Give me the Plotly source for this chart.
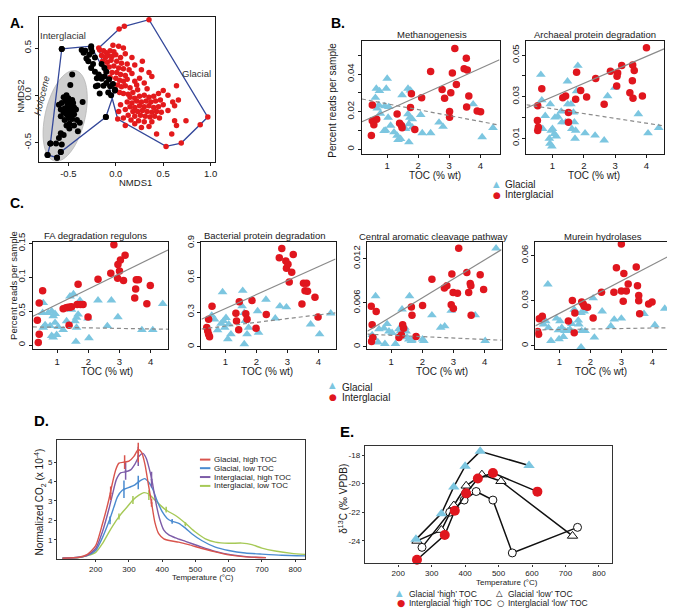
import numpy as np
import plotly.graph_objects as go

W, H = 675, 612
OFF = 8                      # default page margin of the html body
FW, FH = W - OFF, H - OFF
SANS = "Liberation Sans, Arial, Helvetica, sans-serif"
SYM = "DejaVu Sans"
BLUE = "#7cc6e0"
RED = "#e0161e"

# ---------------- Panel A: NMDS ----------------
nmds_inter_x = [-0.36, -0.32, -0.26, -0.25, -0.34, -0.31, -0.29, -0.22, -0.26, -0.22,
                -0.18, -0.17, -0.15, -0.20, -0.12, -0.10, -0.13, -0.06, -0.03, -0.01,
                -0.19, -0.21, -0.17, -0.08, -0.05, -0.12, -0.15, -0.10, -0.28, -0.57,
                -0.105, -0.07, -0.24, -0.35, -0.38]
nmds_inter_y = [0.48, 0.47, 0.50, 0.46, 0.45, 0.39, 0.36, 0.40, 0.29, 0.25,
                0.22, 0.20, 0.175, 0.18, 0.20, 0.13, 0.10, 0.095, 0.12, 0.06,
                0.105, 0.095, 0.02, 0.03, 0.0, 0.29, 0.33, 0.25, 0.43, 0.49,
                -0.23, 0.17, 0.33, -0.07, -0.29]
nmds_holo_x = [-0.46, -0.48, -0.52, -0.55, -0.50, -0.46, -0.53, -0.49, -0.45, -0.57,
               -0.60, -0.51, -0.47, -0.44, -0.54, -0.58, -0.50, -0.46, -0.42, -0.55,
               -0.52, -0.48, -0.44, -0.58, -0.50, -0.46, -0.54, -0.41, -0.49, -0.52,
               -0.58, -0.55, -0.60, -0.57, -0.63, -0.40, -0.69, -0.72, -0.62, -0.58,
               -0.49, -0.44]
nmds_holo_y = [0.22, 0.11, 0.0, -0.02, -0.03, -0.05, -0.06, -0.08, -0.08, -0.08,
               -0.10, -0.11, -0.12, -0.13, -0.14, -0.15, -0.16, -0.17, -0.15, -0.18,
               -0.20, -0.21, -0.20, -0.22, -0.24, -0.25, -0.26, -0.26, -0.30, -0.32,
               -0.40, -0.42, -0.45, -0.52, -0.51, -0.38, -0.51, -0.63, -0.66, -0.60,
               -0.35, -0.32]
nmds_glac_x = [-0.17, -0.13, -0.10, -0.06, -0.02, -0.15, -0.11, -0.08, -0.04, 0.00,
               0.05, -0.14, -0.09, -0.05, 0.01, 0.06, 0.12, -0.12, -0.07, -0.02,
               0.03, 0.08, 0.14, -0.10, -0.04, 0.01, 0.05, 0.10, 0.17, -0.06,
               0.00, 0.04, 0.08, 0.12, 0.20, -0.03, 0.02, 0.06, 0.10, 0.15,
               0.00, 0.04, 0.08, 0.13, 0.18, 0.23, 0.28, 0.27, 0.25, 0.22,
               0.35, 0.38, 0.30, 0.33, 0.20, 0.17, 0.10, 0.03, -0.03, 0.08,
               0.15, 0.20, 0.25, 0.30, 0.35, 0.40, 0.45, 0.50, 0.55,
               0.12, 0.17, 0.22, 0.27, 0.32, 0.37, 0.42, 0.47,
               0.15, 0.20, 0.25, 0.30, 0.35, 0.40, 0.45, 0.50,
               0.10, 0.18, 0.23, 0.28, 0.33, 0.38, 0.43, 0.48,
               0.13, 0.20, 0.26, 0.31, 0.36, 0.41, 0.46,
               0.08, 0.16, 0.24, 0.30, 0.38, 0.05, 0.03,
               0.60, 0.62, 0.66, 0.64, 0.55, 0.62, 0.74, 0.64, 0.43, 0.59,
               0.35, 0.27, 0.20, 0.10]
nmds_glac_y = [0.48, 0.47, 0.45, 0.47, 0.46, 0.42, 0.40, 0.42, 0.41, 0.43,
               0.40, 0.36, 0.35, 0.37, 0.36, 0.34, 0.33, 0.30, 0.30, 0.31,
               0.29, 0.28, 0.27, 0.25, 0.24, 0.24, 0.22, 0.21, 0.23, 0.19,
               0.18, 0.16, 0.15, 0.17, 0.15, 0.12, 0.11, 0.09, 0.10, 0.08,
               0.05, 0.03, 0.02, 0.01, 0.03, 0.06, 0.36, 0.27, 0.18, 0.11,
               0.24, 0.20, 0.13, 0.07, 0.32, 0.40, 0.44, 0.52, 0.53, 0.50,
               -0.02, -0.03, -0.01, 0.00, -0.02, -0.01, 0.02, 0.05, 0.00,
               -0.07, -0.08, -0.06, -0.07, -0.06, -0.07, -0.06, -0.05,
               -0.12, -0.13, -0.11, -0.12, -0.11, -0.13, -0.12, -0.10,
               -0.15, -0.17, -0.17, -0.16, -0.17, -0.18, -0.17, -0.18,
               -0.21, -0.22, -0.21, -0.22, -0.23, -0.22, -0.24,
               -0.24, -0.26, -0.27, -0.28, -0.28, -0.10, -0.17,
               -0.07, -0.11, -0.05, 0.10, -0.16, -0.27, -0.27, -0.32, -0.41, -0.41,
               -0.33, -0.34, -0.30, -0.32]
hull_inter_x = [-0.57, -0.26, -0.01, -0.105, -0.58, -0.62, -0.72, -0.69, -0.57]
hull_inter_y = [0.49, 0.52, 0.05, -0.23, -0.60, -0.66, -0.63, -0.51, 0.49]
hull_glac_x = [-0.18, 0.035, 0.09, 0.35, 0.97, 0.89, 0.69, 0.53, 0.02, -0.18]
hull_glac_y = [0.50, 0.70, 0.73, 0.80, -0.23, -0.31, -0.505, -0.54, -0.25, 0.50]

# ---------------- Panel B ----------------
meth_gl_x = [0.65, 0.75, 1.0, 0.97, 1.48, 1.67, 1.75, 0.62, 0.73, 0.92, 1.05, 0.68, 0.78, 1.03, 0.95, 0.90, 1.11, 1.22,
             1.32, 1.35, 1.43, 1.59, 1.70, 1.73, 1.67, 1.81, 2.08, 1.70, 1.81, 2.13, 2.40, 2.67, 2.80, 3.77, 4.06, 4.41]
meth_gl_y = [0.0323, 0.031, 0.0376, 0.0323, 0.0288, 0.0323, 0.0313, 0.0274, 0.0236, 0.023, 0.0225, 0.0217, 0.019,
             0.0169, 0.010, 0.0098, 0.0126, 0.0091, 0.0073, 0.005, 0.0056, 0.0108, 0.0134, 0.0169, 0.0187, 0.016,
             0.0183, 0.0038, 0.0117, 0.0086, 0.0086, 0.0143, 0.012, 0.024, 0.0065, 0.0114]
meth_ig_x = [0.52, 0.57, 0.49, 0.52, 0.66, 1.32, 1.40, 1.46, 1.48, 1.75, 1.78, 1.89, 2.11, 2.40, 2.77, 2.85, 3.10, 3.05,
             3.23, 3.01, 3.01, 3.18, 3.55, 3.48, 3.58, 3.63, 3.56, 3.90, 4.01]
meth_ig_y = [0.0152, 0.0131, 0.0073, 0.0236, 0.016, 0.0187, 0.0138, 0.0126, 0.0114, 0.0222, 0.0295, 0.0105, 0.0274,
             0.0414, 0.0318, 0.0271, 0.0405, 0.030, 0.0344, 0.0201, 0.017, 0.0536, 0.0484, 0.0428, 0.0421, 0.0283,
             0.0225, 0.0204, 0.0199]
meth_fit_ig = [0.0133, 0.00743]      # intercept, slope
meth_fit_gl = [0.0273, -0.003126]

arch_gl_x = [0.63, 0.66, 0.96, 0.90, 0.92, 0.98, 1.06, 1.12, 1.00, 1.30, 1.48, 1.49, 1.62, 1.70, 1.81, 1.77, 2.04, 2.36,
             2.65, 2.76, 2.99, 3.74, 4.05, 4.39, 0.77, 0.69, 0.93, 1.17, 1.28, 1.59, 1.67, 1.74, 1.72, 1.08, 1.42]
arch_gl_y = [0.0406, 0.0283, 0.0137, 0.0098, 0.0074, 0.0061, 0.0121, 0.0109, 0.0145, 0.0177, 0.0374, 0.0264, 0.0145,
             0.0177, 0.0449, 0.0327, 0.0124, 0.0113, 0.0090, 0.0303, 0.0343, 0.0216, 0.0124, 0.0150, 0.0208, 0.0145,
             0.0264, 0.0204, 0.0229, 0.0264, 0.0224, 0.0137, 0.0098, 0.0200, 0.0177]
arch_ig_x = [0.52, 0.55, 0.53, 0.53, 0.66, 1.33, 1.42, 1.51, 1.51, 1.74, 1.77, 1.90, 2.09, 2.38, 2.65, 2.85, 3.05, 3.06,
             3.08, 3.21, 3.47, 3.55, 3.56, 3.61, 3.57, 3.87, 4.00]
arch_ig_y = [0.0185, 0.0153, 0.0137, 0.0256, 0.0338, 0.0295, 0.0303, 0.0177, 0.0224, 0.0287, 0.0417, 0.0330, 0.0298,
             0.0387, 0.0264, 0.0422, 0.0351, 0.0398, 0.0414, 0.0450, 0.0319, 0.0377, 0.0453, 0.0426, 0.0292, 0.0303,
             0.0536]
arch_fit_ig = [0.0234, 0.00649]
arch_fit_gl = [0.0265, -0.00232]

# ---------------- Panel C ----------------
fa_ig_x = [0.36, 0.42, 0.42, 0.39, 0.53, 1.19, 1.28, 1.35, 1.41, 1.46, 1.38, 1.64, 1.67, 1.83, 1.75, 1.99, 2.31, 2.72,
           2.82, 2.94, 2.95, 3.03, 3.00, 3.13, 3.18, 3.49, 3.52, 3.54, 3.61, 3.88, 3.99]
fa_ig_y = [0.0364, 0.062, 0.016, 0.0039, 0.080, 0.0534, 0.0549, 0.0558, 0.0558, 0.0563, 0.029, 0.0597, 0.0898, 0.0597,
           0.0597, 0.0413, 0.0971, 0.1058, 0.148, 0.0985, 0.1189, 0.1252, 0.1092, 0.0951, 0.1325, 0.0694, 0.0825,
           0.0961, 0.0961, 0.0607, 0.0879]
fa_gl_x = [0.55, 0.53, 0.61, 0.55, 0.71, 0.77, 0.82, 0.87, 0.93, 0.82, 0.87, 0.98, 0.93, 1.03, 1.19, 1.41, 1.52, 1.46,
           1.57, 1.62, 1.73, 1.67, 1.62, 1.60, 1.99, 2.02, 2.31, 2.61, 2.74, 2.95, 3.72, 4.07, 4.39, 1.30]
fa_gl_y = [0.062, 0.0476, 0.0296, 0.0257, 0.0476, 0.0282, 0.050, 0.0427, 0.0461, 0.0136, 0.0112, 0.015, 0.033, 0.0267,
           0.0223, 0.0718, 0.0752, 0.0524, 0.0354, 0.0403, 0.0655, 0.0451, 0.0257, 0.0049, 0.0393, 0.0102, 0.066,
           0.0282, 0.066, 0.0413, 0.0223, 0.0223, 0.0607, 0.0354]
fa_fit_ig = [0.0375, 0.02252]
fa_fit_gl = [0.0269, -0.00079]

bac_ig_x = [0.40, 0.43, 0.46, 0.49, 0.46, 0.57, 1.34, 1.36, 1.45, 1.43, 1.66, 1.70, 1.86, 1.99, 2.32, 2.74, 2.82, 2.95,
            2.97, 3.02, 3.06, 3.14, 3.19, 3.47, 3.52, 3.57, 3.62, 3.65, 3.89, 3.99]
bac_ig_y = [0.166, 0.137, 0.109, 0.086, 0.237, 0.351, 0.289, 0.223, 0.389, 0.146, 0.286, 0.237, 0.400, 0.160, 0.280,
            0.771, 0.851, 0.743, 0.680, 0.714, 0.560, 0.646, 0.800, 0.371, 0.551, 0.486, 0.551, 0.480, 0.429, 0.257]
bac_gl_x = [0.56, 0.65, 0.75, 0.86, 0.91, 0.94, 0.98, 1.02, 1.08, 1.11, 1.18, 1.56, 1.54, 1.61, 1.64, 1.61, 1.70, 1.75,
            2.04, 2.07, 2.31, 2.61, 2.76, 2.97, 3.75, 4.04, 4.40]
bac_gl_y = [0.271, 0.237, 0.143, 0.200, 0.474, 0.223, 0.166, 0.251, 0.066, 0.194, 0.109, 0.486, 0.351, 0.294, 0.223,
            0.023, 0.109, 0.166, 0.309, 0.123, 0.409, 0.246, 0.351, 0.343, 0.194, 0.109, 0.289]
bac_fit_ig = [0.21, 0.1207]
bac_fit_gl = [0.146, 0.0325]

cen_ig_x = [0.36, 0.52, 0.39, 0.41, 0.37, 1.25, 1.33, 1.37, 1.40, 1.65, 1.67, 1.80, 2.01, 2.31, 2.71, 2.79, 2.95, 2.99,
            2.93, 3.00, 3.13, 3.17, 3.43, 3.49, 3.54, 3.56, 3.57, 3.86, 3.97]
cen_ig_y = [0.0055, 0.0048, 0.0030, 0.00125, 0.0007, 0.00125, 0.0016, 0.0030, 0.0025, 0.0054, 0.0043, 0.0014, 0.0056,
            0.0092, 0.0080, 0.0083, 0.0099, 0.0074, 0.0057, 0.0052, 0.0073, 0.0134, 0.0101, 0.0074, 0.0086, 0.0083,
            0.0043, 0.0098, 0.0078]
cen_gl_x = [0.50, 0.39, 0.45, 0.58, 0.61, 0.77, 0.80, 0.87, 0.93, 1.03, 1.14, 1.25, 1.30, 1.35, 1.48, 1.51, 1.57, 1.59,
            1.65, 1.67, 1.44, 2.01, 2.05, 2.31, 2.59, 2.72, 2.93, 3.70, 4.02, 4.37]
cen_gl_y = [0.0069, 0.0016, 0.0012, 0.0006, 0.0024, 0.0025, 0.0004, 0.0031, 0.0021, 0.0019, 0.0004, 0.0024, 0.0021,
            0.0051, 0.0021, 0.0013, 0.0010, 0.0069, 0.0008, 0.0009, 0.0026, 0.0010, 0.0008, 0.0043, 0.0026, 0.0028,
            0.0049, 0.0043, 0.0008, 0.0134]
cen_fit_ig = [0.00150, 0.00258]
cen_fit_gl = [0.00175, -0.00019]

mur_ig_x = [0.30, 0.33, 0.35, 0.45, 1.29, 1.42, 1.48, 1.50, 1.72, 1.77, 1.80, 1.91, 2.09, 2.36, 2.76, 2.84, 3.00, 3.00,
            3.06, 3.08, 3.16, 3.22, 3.48, 3.52, 3.56, 3.56, 3.59, 3.88, 3.99]
mur_ig_y = [0.0094, 0.0076, 0.0180, 0.0196, 0.0164, 0.0301, 0.0087, 0.0218, 0.0290, 0.0277, 0.0262, 0.0255, 0.0185,
            0.0356, 0.0356, 0.0519, 0.0676, 0.0364, 0.0295, 0.0480, 0.0364, 0.0410, 0.0524, 0.0399, 0.0334, 0.0299,
            0.0212, 0.0277, 0.0290]
mur_gl_x = [0.49, 0.63, 0.56, 0.65, 0.73, 0.91, 0.97, 0.99, 1.02, 1.08, 1.13, 1.18, 1.27, 1.34, 1.40, 1.48, 1.56, 1.61,
            1.63, 1.70, 1.72, 1.80, 1.83, 1.70, 2.09, 2.13, 2.38, 2.66, 2.77, 3.00, 3.73, 4.08, 4.40]
mur_gl_y = [0.0142, 0.0408, 0.0164, 0.0120, 0.0033, 0.0181, 0.0103, 0.0044, 0.0164, 0.0120, 0.0059, 0.0098, 0.0098,
            0.0109, 0.0146, 0.0240, 0.0218, 0.0168, 0.0142, 0.0218, 0.0098, 0.0229, 0.0098, -0.0010, 0.0316, 0.0055,
            0.0229, 0.0131, 0.0175, 0.0181, 0.0212, 0.0137, 0.0247]
mur_fit_ig = [0.01073, 0.01077]
mur_fit_gl = [0.01042, 0.00034]

# ---------------- Panel D: thermograms ----------------
d_gh_t = [100, 150, 175, 200, 220, 240, 250, 260, 270, 285, 300, 315, 328, 338, 348, 358, 368, 378, 390, 405, 425, 450,
          480, 520, 560, 600, 650, 712]
d_gh_v = [0.05, 0.1, 0.25, 0.7, 1.8, 3.1, 3.9, 4.6, 4.95, 5.0, 5.05, 5.3, 5.65, 5.5, 4.9, 3.9, 2.9, 1.9, 1.3, 1.05,
          0.95, 0.88, 0.75, 0.55, 0.38, 0.22, 0.12, 0.08]
d_gl_t = [100, 150, 175, 200, 220, 240, 255, 265, 280, 300, 315, 330, 347, 360, 372, 385, 400, 415, 430, 450, 470, 490,
          520, 560, 600, 650, 700, 760, 830]
d_gl_v = [0.05, 0.1, 0.2, 0.45, 1.1, 1.95, 2.7, 3.2, 3.55, 3.7, 3.8, 4.0, 4.15, 3.95, 3.6, 3.0, 2.45, 2.1, 1.95, 1.85,
          1.6, 1.3, 0.95, 0.62, 0.45, 0.32, 0.26, 0.2, 0.17]
d_ih_t = [100, 150, 175, 200, 220, 240, 250, 262, 275, 290, 305, 318, 330, 342, 352, 362, 370, 380, 392, 405, 420, 440,
          470, 510, 560, 610, 660, 712]
d_ih_v = [0.05, 0.1, 0.2, 0.55, 1.4, 2.6, 3.3, 4.1, 4.45, 4.5, 4.6, 4.9, 5.3, 5.45, 5.2, 4.6, 4.0, 3.0, 2.1, 1.5, 1.25,
          1.1, 0.92, 0.68, 0.4, 0.22, 0.12, 0.08]
d_il_t = [100, 150, 175, 200, 220, 240, 260, 275, 295, 312, 330, 345, 360, 375, 390, 410, 440, 470, 500, 530, 560, 600,
          640, 670, 700, 740, 790, 830]
d_il_v = [0.05, 0.08, 0.18, 0.35, 0.8, 1.4, 1.95, 2.3, 2.7, 3.05, 3.3, 3.43, 3.35, 3.1, 2.85, 2.55, 2.25, 1.85, 1.4,
          1.05, 0.88, 0.82, 0.83, 0.75, 0.57, 0.42, 0.3, 0.25]
d_err = {
    "gh": ([245, 287, 328, 368], [3.4, 5.0, 5.5, 2.9], [0.35, 0.35, 0.5, 0.2]),
    "gl": ([243, 285, 328, 430], [2.0, 3.6, 3.95, 1.95], [0.2, 0.45, 0.35, 0.12]),
    "ih": ([290, 328, 368], [4.55, 5.3, 4.1], [0.45, 0.5, 0.4]),
    "il": ([270, 312, 360, 412, 470], [2.2, 3.05, 3.3, 2.55, 1.8], [0.15, 0.2, 0.25, 0.15, 0.1]),
}

# ---------------- Panel E: d13C ----------------
e_gh_t = [253, 329, 366, 400, 445, 591]
e_gh_v = [-23.9, -22.1, -20.23, -18.78, -17.74, -18.73]
e_gl_t = [256, 329, 366, 403, 450, 507, 721]
e_gl_v = [-24.01, -23.25, -21.53, -20.15, -19.37, -19.83, -23.66]
e_ih_t = [256, 339, 369, 403, 438, 483, 616]
e_ih_v = [-25.33, -23.6, -21.9, -20.68, -19.64, -19.25, -20.56]
e_il_t = [271, 354, 397, 433, 483, 541, 736]
e_il_v = [-24.46, -22.0, -21.15, -20.55, -21.15, -24.85, -23.06]

# ======================================================================
fig = go.Figure()
layout_axes = {}


def dx(p):
    return min(max((p - OFF) / FW, 0.0), 1.0)


def dy(p):
    return min(max(1 - (p - OFF) / FH, 0.0), 1.0)


def add_axes(n, xpx, ypx, xr, yr, xt, xl, yt, yl, fsize=10, yangle=-90, ticklen=4, lw=1, lcol="#1a1a1a",
             yminor=None):
    s = "" if n == 1 else str(n)
    common = dict(showline=True, mirror=True, linecolor=lcol, linewidth=lw, ticks="outside", ticklen=ticklen,
                  tickwidth=1, tickcolor=lcol, showgrid=False, zeroline=False,
                  tickfont=dict(family=SANS, size=fsize, color="#1a1a1a"), fixedrange=True, tickmode="array")
    layout_axes["xaxis" + s] = dict(domain=[dx(xpx[0]), dx(xpx[1])], range=xr, anchor="y" + s,
                                    tickvals=xt, ticktext=xl, **common)
    ydict = dict(domain=[dy(ypx[1]), dy(ypx[0])], range=yr, anchor="x" + s,
                 tickvals=yt, ticktext=yl, tickangle=yangle, **common)
    if yminor:
        ydict["minor"] = dict(tickmode="array", tickvals=yminor, ticks="outside", ticklen=ticklen,
                              tickwidth=1, tickcolor=lcol, showgrid=False)
    layout_axes["yaxis" + s] = ydict
    return "x" + s, "y" + s


# ---- Panel A ----  (box top at y=8 px, the top of the visible page)
xa, ya = add_axes(1, (39, 216), (8, 155), [-0.811, 1.05], [-0.703, 0.828],
                  [-0.5, 0, 0.5, 1.0], ["-0.5", "0.0", "0.5", "1.0"],
                  [-0.5, 0, 0.5], ["-0.5", "0.0", "0.5"], fsize=9.5, ticklen=3)

# Holocene ellipse (highlight shape)
ell_c, ell_a, ell_b, ell_th = (-0.534, -0.217), 0.49, 0.21, np.deg2rad(13.2)
tt = np.linspace(0, 2 * np.pi, 80)
ex = ell_c[0] + ell_a * np.sin(ell_th) * np.cos(tt) + ell_b * np.cos(ell_th) * np.sin(tt)
ey = ell_c[1] + ell_a * np.cos(ell_th) * np.cos(tt) - ell_b * np.sin(ell_th) * np.sin(tt)
path = "M " + " L ".join(f"{a:.4f},{b:.4f}" for a, b in zip(ex, ey)) + " Z"
shapes = [dict(type="path", path=path, xref=xa, yref=ya, fillcolor="#cfcfcf",
               line=dict(color="#b5b5b5", width=0.8), layer="below")]

fig.add_trace(go.Scatter(x=hull_glac_x, y=hull_glac_y, mode="lines", line=dict(color="#34489a", width=1.3),
                         xaxis=xa, yaxis=ya))
fig.add_trace(go.Scatter(x=hull_inter_x, y=hull_inter_y, mode="lines", line=dict(color="#34489a", width=1.3),
                         xaxis=xa, yaxis=ya))
fig.add_trace(go.Scatter(x=nmds_glac_x + hull_glac_x[:-1], y=nmds_glac_y + hull_glac_y[:-1], mode="markers",
                         marker=dict(color="#e31a1c", size=5.5), xaxis=xa, yaxis=ya, cliponaxis=False))
fig.add_trace(go.Scatter(x=nmds_inter_x + nmds_holo_x + hull_inter_x[:-1],
                         y=nmds_inter_y + nmds_holo_y + hull_inter_y[:-1], mode="markers",
                         marker=dict(color="#000000", size=6), xaxis=xa, yaxis=ya))

# ---- Panels B & C ----
panels = [
    (2, (363, 501), (32, 147), [0.186, 4.62], [-0.00246, 0.05775],
     [0, 0.02, 0.04], ["0", "0.02", "0.04"], [0.01, 0.03, 0.05],
     meth_gl_x, meth_gl_y, meth_ig_x, meth_ig_y, meth_fit_gl, meth_fit_ig),
    (3, (528, 666), (32, 147), [0.17, 4.56], [0.00242, 0.05697],
     [0.01, 0.03, 0.05], ["0.01", "0.03", "0.05"], [0.02, 0.04],
     arch_gl_x, arch_gl_y, arch_ig_x, arch_ig_y, arch_fit_gl, arch_fit_ig),
    (4, (33, 168.5), (236, 345.5), [0.218, 4.56], [-0.00653, 0.1525],
     [0, 0.05, 0.1, 0.15], ["0", "0.5", "0.1", "0.15"], None,
     fa_gl_x, fa_gl_y, fa_ig_x, fa_ig_y, fa_fit_gl, fa_fit_ig),
    (5, (202, 336.5), (236, 345.5), [0.228, 4.553], [-0.0239, 0.911],
     [0, 0.3, 0.6, 0.9], ["0", "0.3", "0.6", "0.9"], None,
     bac_gl_x, bac_gl_y, bac_ig_x, bac_ig_y, bac_fit_gl, bac_fit_ig),
    (6, (368.5, 503), (236, 345.5), [0.238, 4.545], [-0.000376, 0.01432],
     [0, 0.006, 0.012], ["0", "0.006", "0.012"], None,
     cen_gl_x, cen_gl_y, cen_ig_x, cen_ig_y, cen_fit_gl, cen_fit_ig),
    (7, (537, 671.5), (236, 345.5), [0.228, 4.553], [-0.00249, 0.0692],
     [0, 0.03, 0.06], ["0", "0.03", "0.06"], None,
     mur_gl_x, mur_gl_y, mur_ig_x, mur_ig_y, mur_fit_gl, mur_fit_ig),
]
for (n, xp, yp, xr, yr, yt, yl, ymin, gx, gy, ix, iy, fgl, fig_) in panels:
    xs, ys = add_axes(n, xp, yp, xr, yr, [1, 2, 3, 4], ["1", "2", "3", "4"], yt, yl, fsize=9.5, ticklen=3,
                      yminor=ymin)
    lx = np.array(xr)
    fig.add_trace(go.Scatter(x=gx, y=gy, mode="markers", xaxis=xs, yaxis=ys,
                             marker=dict(symbol="triangle-up", color=BLUE, size=8.5, line=dict(width=0))))
    fig.add_trace(go.Scatter(x=ix, y=iy, mode="markers", xaxis=xs, yaxis=ys,
                             marker=dict(symbol="circle", color=RED, size=7.5, line=dict(width=0))))
    fig.add_trace(go.Scatter(x=lx, y=fig_[0] + fig_[1] * lx, mode="lines", xaxis=xs, yaxis=ys,
                             line=dict(color="#8a8a8a", width=1.2)))
    fig.add_trace(go.Scatter(x=lx, y=fgl[0] + fgl[1] * lx, mode="lines", xaxis=xs, yaxis=ys,
                             line=dict(color="#8a8a8a", width=1.2, dash="4px,3px")))

# ---- Panel D ----
xd, yd = add_axes(8, (57.3, 306), (437.3, 558.3), [84, 830], [0.005, 6.147],
                  [200, 300, 400, 500, 600, 700, 800], ["200", "300", "400", "500", "600", "700", "800"],
                  [1, 2, 3, 4, 5], ["1", "2", "3", "4", "5"], fsize=8, yangle=0, ticklen=2, lw=1.4, lcol="#333333")
d_cols = {"gh": "#d9544d", "gl": "#4a8bd0", "ih": "#7d5ca8", "il": "#a6c957"}
for key, tx, vy in [("il", d_il_t, d_il_v), ("gl", d_gl_t, d_gl_v), ("ih", d_ih_t, d_ih_v), ("gh", d_gh_t, d_gh_v)]:
    fig.add_trace(go.Scatter(x=tx, y=vy, mode="lines", line=dict(color=d_cols[key], width=1.4, shape="spline",
                                                                   smoothing=0.6), xaxis=xd, yaxis=yd))
    et, ev, ee = d_err[key]
    fig.add_trace(go.Scatter(x=et, y=ev, mode="markers", marker=dict(size=2, color=d_cols[key]),
                             error_y=dict(type="data", array=ee, visible=True, color=d_cols[key], thickness=1.5,
                                          width=0), xaxis=xd, yaxis=yd))

# ---- Panel E ----
xe, ye = add_axes(9, (366, 614), (443.3, 562.7), [100.4, 839.6], [-25.586, -17.352],
                  [200, 300, 400, 500, 600, 700, 800], ["200", "300", "400", "500", "600", "700", "800"],
                  [-18, -20, -22, -24], ["-18", "-20", "-22", "-24"], fsize=8, yangle=0, ticklen=2, lw=1.4,
                  lcol="#333333")
e_series = [
    (e_il_t, e_il_v, dict(symbol="circle", color="white", size=8, line=dict(color="#111", width=1))),
    (e_gl_t, e_gl_v, dict(symbol="triangle-up", color="white", size=9, line=dict(color="#111", width=1))),
    (e_ih_t, e_ih_v, dict(symbol="circle", color=RED, size=10, line=dict(width=0))),
    (e_gh_t, e_gh_v, dict(symbol="triangle-up", color=BLUE, size=10, line=dict(width=0))),
]
for tx, vy, mk in e_series:
    fig.add_trace(go.Scatter(x=tx, y=vy, mode="lines+markers", line=dict(color="#111", width=1.5), marker=mk,
                             xaxis=xe, yaxis=ye, cliponaxis=False))

# ---- Annotations ----
ann = []


def A(text, x, y, size=10, xanchor="center", angle=0, color="#1a1a1a", family=SANS):
    ann.append(dict(text=text, x=dx(x), y=dy(y), xref="paper", yref="paper", showarrow=False, xanchor=xanchor,
                    yanchor="middle", textangle=angle, font=dict(family=family, size=size, color=color)))


A("<b>A.</b>", 8, 14, 14, "left", color="#000")
A("<b>B.</b>", 330, 14, 14, "left", color="#000")
A("<b>C.</b>", 8, 197, 14, "left", color="#000")
A("<b>D.</b>", 32, 418, 15, "left", color="#000")
A("<b>E.</b>", 339, 429, 15, "left", color="#000")

A("Interglacial", 63, 27, 9.5, color="#333")
A("Glacial", 197, 65, 9.5, color="#333")
A("<i>Holocene</i>", 42, 88, 9.5, angle=-76, color="#333")
A("NMDS1", 136, 176, 9.5)
A("NMDS2", 21, 88, 9.5, angle=-90)

A("Methanogenesis", 433, 26, 9.5)
A("Archaeal protein degradation", 596.5, 26, 9.5)
A("Percent reads per sample", 334, 93, 10, angle=-90)
A("TOC (% wt)", 436.5, 169, 10)
A("TOC (% wt)", 596, 169, 10)
A("▲", 497.5, 177.5, 8.5, color=BLUE, family=SYM)
A("●", 498.3, 188.5, 9, color=RED, family=SYM)
A("Glacial", 504, 178.5, 10, "left")
A("Interglacial", 504, 188.5, 10, "left")

A("FA degradation regulons", 95.5, 229.5, 9.5)
A("Bacterial protein degradation", 265, 229.5, 9.5)
A("Central aromatic cleavage pathway", 435, 230.5, 9.5)
A("Murein hydrolases", 605, 230.5, 9.5)
A("Percent reads per sample", 14, 280, 9.5, angle=-90)
for xc in (107, 268, 443, 603):
    A("TOC (% wt)", xc, 368, 10)
A("▲", 333.3, 382, 8.5, color=BLUE, family=SYM)
A("●", 333.8, 393.5, 9, color=RED, family=SYM)
A("Glacial", 341, 384, 10, "left")
A("Interglacial", 341, 394, 10, "left")

A("Normalized CO<sub>2</sub> (x 10<sup>-4</sup>)", 40, 500, 10, angle=-90)
A("Temperature (°C)", 204, 577, 8)
d_leg = [("Glacial, high TOC", "gh", 457.3), ("Glacial, low TOC", "gl", 466),
         ("Interglacial, high TOC", "ih", 475), ("Interglacial, low TOC", "il", 484)]
for lab, key, yy in d_leg:
    shapes.append(dict(type="line", xref="paper", yref="paper", x0=dx(200.5), x1=dx(211), y0=dy(yy), y1=dy(yy),
                       line=dict(color=d_cols[key], width=2)))
    A(lab, 213, yy, 8, "left")

A("δ<sup>13</sup>C (‰ VPDB)", 344, 497, 10, angle=-90)
A("Temperature (°C)", 508, 582, 8)
A("▲", 401, 593, 8.5, color=BLUE, family=SYM)
A("●", 402, 602.5, 9.5, color=RED, family=SYM)
A("△", 501, 593, 8.5, color="#111", family=SYM)
A("○", 502, 602.5, 8.5, color="#111", family=SYM)
A("Glacial ‘high’ TOC", 408, 593.5, 8.5, "left")
A("Interglacial ‘high’ TOC", 408, 602.5, 8.5, "left")
A("Glacial ‘low’ TOC", 507, 593.5, 8.5, "left")
A("Interglacial ‘low’ TOC", 507, 602.5, 8.5, "left")

fig.update_layout(width=FW, height=FH, margin=dict(l=0, r=0, t=0, b=0), paper_bgcolor="white",
                  plot_bgcolor="white", showlegend=False, annotations=ann, shapes=shapes,
                  font=dict(family=SANS), **layout_axes)
fig.update_traces(hoverinfo="skip")
fig.write_html("out.html")
